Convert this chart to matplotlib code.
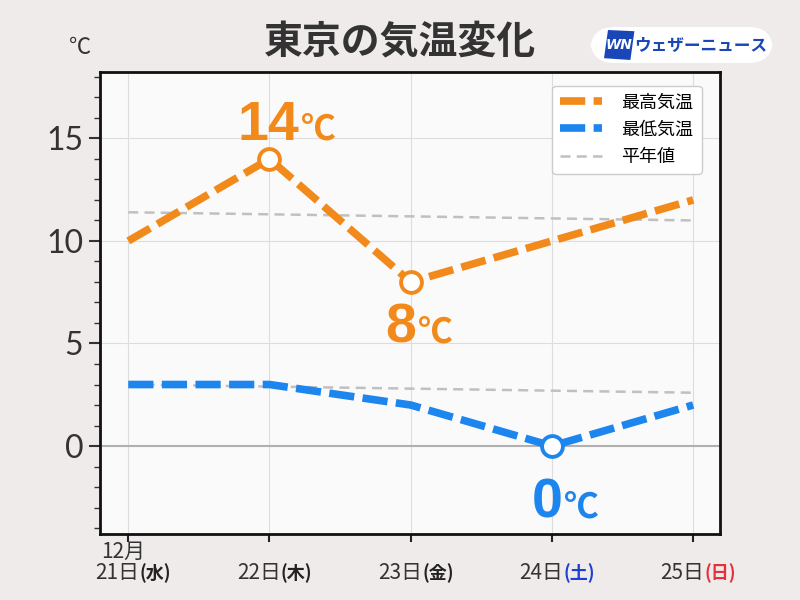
import matplotlib
matplotlib.use("Agg")
import matplotlib.pyplot as plt
from matplotlib.patches import FancyBboxPatch, Polygon
from matplotlib.lines import Line2D
from matplotlib.transforms import blended_transform_factory

plt.rcParams['font.family'] = ['Noto Sans CJK JP', 'DejaVu Sans']
NUMFONT = ['Lato', 'Noto Sans CJK JP']
BIGFONT = ['Liberation Sans', 'Noto Sans CJK JP']

days = [21, 22, 23, 24, 25]
weekdays = ['水', '木', '金', '土', '日']
weekday_colors = ['#222222', '#222222', '#222222', '#1f3fd0', '#e8303a']
high = [10, 14, 8, 10, 12]
low = [3, 3, 2, 0, 2]
normal_high = [11.4, 11.3, 11.2, 11.1, 11.0]
normal_low = [3.0, 2.9, 2.8, 2.7, 2.6]
yticks = [0, 5, 10, 15]
high_marks = [1, 2]
low_marks = [3]

ORANGE = '#f28a1b'
BLUE = '#1c86ee'
GRAY = '#c0c0c0'
DASH = (0, (3.3, 1.1))

fig = plt.figure(figsize=(8, 6), dpi=100, facecolor='#eeebea')
ax = fig.add_axes([0.125, 0.11, 0.775, 0.77])
ax.set_facecolor('#fbfafb')

ax.set_xlim(20.80, 25.19)
ax.set_ylim(-4.29, 18.24)

for d in days:
    ax.axvline(d, color='#dddddd', lw=0.8, zorder=0)
for y in yticks:
    if y == 0:
        ax.axhline(y, color='#b0b0b0', lw=1.5, zorder=0)
    else:
        ax.axhline(y, color='#dddddd', lw=0.8, zorder=0)

ax.plot(days, normal_high, color=GRAY, lw=1.8, ls=(0, (4, 2.5)), zorder=1)
ax.plot(days, normal_low, color=GRAY, lw=1.8, ls=(0, (4, 2.5)), zorder=1)

ax.plot(days, high, color=ORANGE, lw=5.5, ls=DASH, zorder=2, dash_capstyle='butt')
ax.plot(days, low, color=BLUE, lw=5.5, ls=DASH, zorder=2, dash_capstyle='butt')

ax.plot([days[i] for i in high_marks], [high[i] for i in high_marks], 'o', ms=15,
        mfc='white', mec=ORANGE, mew=2.8, zorder=3)
ax.plot([days[i] for i in low_marks], [low[i] for i in low_marks], 'o', ms=15,
        mfc='white', mec=BLUE, mew=2.8, zorder=3)

def big_label(x, y, val, color, dx_num, dy, dx_unit):
    ax.annotate(f'{val}', xy=(x, y), xytext=(dx_num, dy), textcoords='offset pixels',
                ha='center', va='baseline', fontsize=40, fontweight='bold', color=color,
                zorder=5, family=BIGFONT)
    ax.annotate('℃', xy=(x, y), xytext=(dx_unit, dy), textcoords='offset pixels',
                ha='left', va='baseline', fontsize=25, fontweight='bold', color=color, zorder=5)

big_label(days[1], high[1], high[1], ORANGE, -1, 19, 31)
big_label(days[2], high[2], high[2], ORANGE, -10, -61, 6)
big_label(days[3], low[3], low[3], BLUE, -5, -71, 11)

ax.set_yticks(yticks)
ax.set_yticklabels([str(v) for v in yticks], family=NUMFONT)
ax.set_yticks(range(-4, 19), minor=True)
ax.tick_params(axis='y', which='major', labelsize=23, length=8, width=1.5, colors='#333333', pad=4)
ax.tick_params(axis='y', which='minor', length=4, width=1.0, colors='#333333')
ax.set_xticks(days)
ax.set_xticklabels([])
ax.tick_params(axis='x', which='major', length=6, width=1.5, colors='#222222')
for s in ax.spines.values():
    s.set_linewidth(2)
    s.set_color('#111111')

tr = blended_transform_factory(ax.transData, fig.transFigure)
for d, w, c in zip(days, weekdays, weekday_colors):
    ax.text(d + 0.08, 0.045, f'{d}日', transform=tr, ha='right', va='center',
            fontsize=15, color='#333333')
    ax.text(d + 0.08, 0.045, f'({w})', transform=tr, ha='left', va='center',
            fontsize=13, color=c, fontweight='bold')
ax.text(days[0] - 0.19, 0.08, '12月', transform=tr, ha='left', va='center',
        fontsize=15, color='#333333')

fig.text(0.1, 0.92, '℃', ha='center', va='center', fontsize=16, color='#333333')
fig.text(0.5, 0.928, '東京の気温変化', ha='center', va='center', fontsize=28,
         fontweight='bold', color='#333333')

handles = [
    Line2D([], [], color=ORANGE, lw=5.5, ls=(0, (3.3, 1.1))),
    Line2D([], [], color=BLUE, lw=5.5, ls=(0, (3.3, 1.1))),
    Line2D([], [], color=GRAY, lw=1.8, ls=(0, (4, 2.5))),
]
leg = ax.legend(handles, ['最高気温', '最低気温', '平年値'], loc='upper right', fontsize=13,
                frameon=True, handlelength=2.3, borderpad=0.45, labelspacing=0.5,
                handletextpad=1.1, bbox_to_anchor=(0.985, 0.99))
leg.get_frame().set_edgecolor('#cccccc')
leg.get_frame().set_facecolor('white')
leg.get_frame().set_alpha(1)

# logo
box = FancyBboxPatch((0.738, 0.895), 0.228, 0.06, boxstyle='round,pad=0,rounding_size=0.03',
                     transform=fig.transFigure, facecolor='white', edgecolor='none', mutation_aspect=1.33)
fig.patches.append(box)
logo = Polygon([[0.755, 0.903], [0.788, 0.900], [0.793, 0.948], [0.760, 0.950]], closed=True,
               transform=fig.transFigure, facecolor='#1a47b8', edgecolor='none')
fig.patches.append(logo)
fig.text(0.7735, 0.925, 'WN', ha='center', va='center', fontsize=10, fontweight='bold',
         style='italic', color='white', family=['DejaVu Sans'])
fig.text(0.876, 0.924, 'ウェザーニュース', ha='center', va='center', fontsize=12,
         fontweight='bold', color='#1a47b8')

fig.savefig('out.png', dpi=100, facecolor=fig.get_facecolor())
